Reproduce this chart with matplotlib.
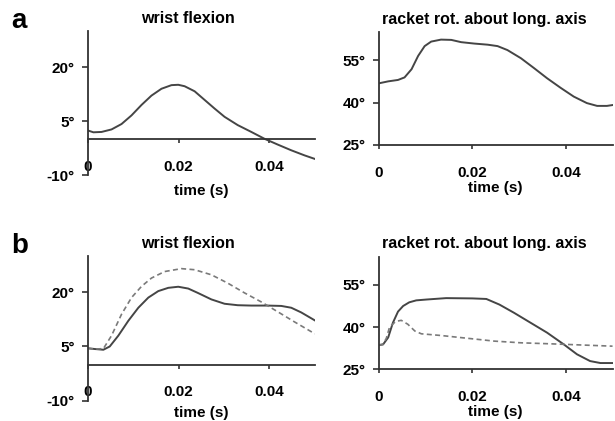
import matplotlib.pyplot as plt

plt.rcParams['font.family'] = ['Liberation Sans', 'DejaVu Sans']
plt.rcParams['font.weight'] = 'bold'

# time values in ms, converted to s when plotting
# panel a - wrist flexion
a_wrist_t = [0, 1.2, 3.0, 5.2, 7.4, 9.6, 11.8, 14.0, 16.2, 18.4, 19.9, 21.3,
             23.5, 25.7, 27.9, 30.1, 33.0, 36.0, 38.9, 41.8, 44.8, 47.7, 50.0]
a_wrist = [2.4, 1.9, 2.0, 2.7, 4.2, 6.6, 9.5, 12.1, 14.0, 15.0, 15.1, 14.7,
           13.3, 10.9, 8.5, 6.2, 3.9, 2.0, 0.1, -1.5, -3.1, -4.5, -5.5]

# panel a - racket rotation
a_racket_t = [0, 2.0, 4.1, 5.5, 7.0, 8.4, 9.8, 11.2, 13.3, 15.5, 17.6, 20.4,
              23.3, 25.4, 27.5, 30.4, 33.2, 36.0, 38.9, 41.7, 44.5, 46.7, 48.8, 50.0]
a_racket = [46.8, 47.5, 48.0, 48.9, 51.8, 56.5, 60.0, 61.6, 62.3, 62.2, 61.4, 60.9,
            60.5, 60.0, 58.6, 55.7, 52.2, 48.6, 45.2, 42.1, 39.8, 38.8, 38.8, 39.1]

# panel b - wrist flexion (solid / dashed)
b_wrist_t = [0, 1.5, 3.4, 4.8, 6.7, 8.9, 11.1, 13.3, 15.5, 17.7, 19.9, 22.1,
             24.2, 27.2, 30.1, 33.0, 36.0, 39.6, 42.6, 44.8, 47.0, 50.0]
b_wrist = [4.5, 4.3, 4.1, 5.0, 8.0, 12.1, 15.7, 18.5, 20.3, 21.2, 21.5, 21.0,
           19.8, 18.0, 16.8, 16.4, 16.3, 16.3, 16.2, 15.7, 14.4, 12.2]
b_wrist2_t = [0, 1.5, 3.4, 5.2, 7.4, 9.6, 11.8, 14.0, 16.9, 20.6, 23.5, 27.2,
              30.8, 34.5, 38.2, 41.8, 45.5, 50.0]
b_wrist2 = [4.5, 4.3, 4.4, 8.0, 13.9, 18.5, 21.6, 23.9, 25.7, 26.5, 26.2, 24.8,
            22.5, 19.8, 17.3, 14.6, 11.8, 8.5]

# panel b - racket rotation (solid / dashed)
b_racket_t = [0, 0.9, 2.0, 3.0, 4.1, 5.2, 6.5, 8.0, 10.2, 14.4, 20.0, 23.0,
              25.8, 28.9, 32.5, 36.0, 39.6, 42.4, 45.2, 47.4, 50.0]
b_racket = [33.6, 33.8, 36.3, 41.5, 45.5, 47.5, 48.8, 49.5, 49.8, 50.3, 50.2, 50.0,
            48.0, 45.1, 41.5, 38.0, 33.8, 30.3, 27.9, 27.2, 27.2]
b_racket2_t = [0, 0.9, 1.6, 2.3, 3.6, 4.8, 6.2, 7.7, 9.1, 13.3, 19.0, 24.7,
               30.4, 37.4, 50.0]
b_racket2 = [33.6, 33.9, 36.0, 40.0, 42.0, 42.4, 41.0, 38.6, 37.6, 37.0, 36.0, 35.0,
             34.4, 34.0, 33.2]

fig = plt.figure(figsize=(6.15, 4.21), dpi=100)

line_col = '#454545'
dash_col = '#7a7a7a'


def ms(t):
    return [v / 1000 for v in t]


def style(ax, yticks, ylim, at_zero, label_y):
    ax.set_xlim(0, 0.05)
    ax.set_ylim(*ylim)
    for s in ['top', 'right']:
        ax.spines[s].set_visible(False)
    for s in ['left', 'bottom']:
        ax.spines[s].set_color('#333333')
        ax.spines[s].set_linewidth(1.3)
    if at_zero:
        ax.spines['bottom'].set_position(('data', 0))
    ax.set_xticks([0, 0.02, 0.04])
    ax.set_xticklabels(['0', '0.02', '0.04'])
    ax.set_yticks(yticks)
    ax.set_yticklabels(['%d\u00b0' % v for v in yticks])
    ax.tick_params(axis='x', direction='out', length=3, width=1.2, pad=12,
                   labelsize=11, color='#333333')
    ax.tick_params(axis='y', direction='out', length=4.5, width=1.2, pad=5,
                   labelsize=11, color='#333333')
    ax.set_xlabel('time (s)', fontsize=11, fontweight='bold')
    ax.xaxis.set_label_coords(0.5, label_y)


ax1 = fig.add_axes([0.143, 0.584, 0.369, 0.342])
ax1.plot(ms(a_wrist_t), a_wrist, color=line_col, lw=1.4)
style(ax1, [-10, 5, 20], (-10, 30), True, -0.06)
ax1.set_title('wrist flexion', fontsize=11.5, fontweight='bold', x=0.44, pad=6)

ax2 = fig.add_axes([0.616, 0.656, 0.380, 0.268])
ax2.plot(ms(a_racket_t), a_racket, color=line_col, lw=1.4)
style(ax2, [25, 40, 55], (25, 65), False, -0.32)
ax2.set_title('racket rot. about long. axis', fontsize=11.5, fontweight='bold', x=0.453, pad=6)

ax3 = fig.add_axes([0.143, 0.048, 0.369, 0.344])
ax3.plot(ms(b_wrist_t), b_wrist, color=line_col, lw=1.4)
ax3.plot(ms(b_wrist2_t), b_wrist2, color=dash_col, lw=1.2, ls=(0, (3, 2)))
style(ax3, [-10, 5, 20], (-10, 30), True, -0.034)
ax3.set_title('wrist flexion', fontsize=11.5, fontweight='bold', x=0.44, pad=6)

ax4 = fig.add_axes([0.616, 0.123, 0.380, 0.267])
ax4.plot(ms(b_racket_t), b_racket, color=line_col, lw=1.4)
ax4.plot(ms(b_racket2_t), b_racket2, color=dash_col, lw=1.2, ls=(0, (3, 2)))
style(ax4, [25, 40, 55], (25, 65), False, -0.32)
ax4.set_title('racket rot. about long. axis', fontsize=11.5, fontweight='bold', x=0.453, pad=6)

fig.text(0.019, 0.933, 'a', fontsize=20, fontweight='bold', va='baseline', ha='left')
fig.text(0.019, 0.399, 'b', fontsize=20, fontweight='bold', va='baseline', ha='left')

fig.savefig('out.png', dpi=100)
